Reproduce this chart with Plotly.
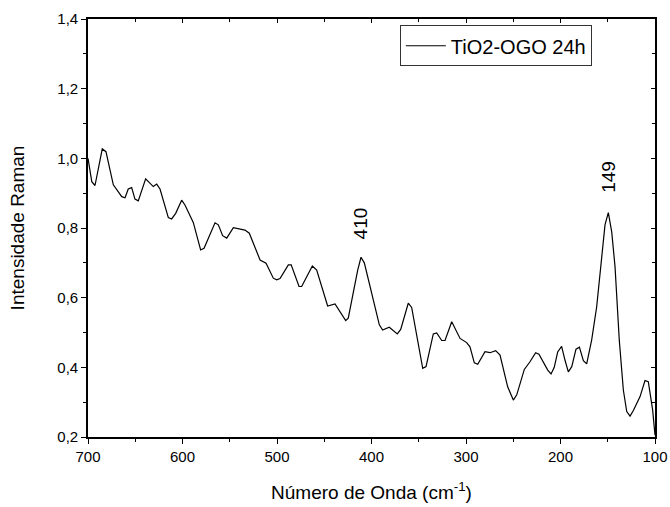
import plotly.graph_objects as go

wavenumber = [700, 696, 692.6, 684.9, 681, 673.2, 664.3, 660.8, 657.4, 653.8, 650.3, 646.8,
              639, 630.9, 627.3, 623.8, 615, 611.5, 607.2, 600.9, 597.4,
              588.6, 580.8, 577.2, 565.6, 562.1, 557.5, 553.2, 546.2, 533.9, 529.3,
              517.9, 511.6, 503.9, 500.3, 496.8, 488, 485, 476.7, 473.9, 462.6, 458,
              446.4, 438.6, 427.3, 424.6, 414.6, 411.1, 407.6, 401.6, 396.3,
              391.7, 388.2, 381.2, 372.7, 369.1, 361.1, 357.5, 345.8, 342.3, 334.6,
              331, 325.7, 322.2, 315.1, 306.3, 299.3, 295.8, 291.2, 287.6, 279.9,
              274.6, 268.6, 264, 255.9, 249.9, 246.3, 238.3, 232.3, 226.3, 222.8,
              213.5, 210, 206.6, 203, 198.8, 195.3, 191.7, 188.1, 183.6, 180,
              175.8, 172.3, 167, 161.7, 157.5, 152.9, 149.4, 145.8, 142.3, 137.8,
              133.5, 129.9, 126.4, 122.9, 115.8, 110.6, 107.1, 102.5, 100]
intensity = [1.0, 0.933, 0.922, 1.027, 1.019, 0.924, 0.890, 0.887, 0.912, 0.916, 0.883, 0.878,
             0.941, 0.919, 0.926, 0.912, 0.830, 0.826, 0.842, 0.880, 0.866,
             0.816, 0.737, 0.742, 0.815, 0.809, 0.778, 0.771, 0.801, 0.794, 0.785,
             0.708, 0.699, 0.656, 0.651, 0.655, 0.694, 0.694, 0.632, 0.632, 0.691, 0.679,
             0.576, 0.582, 0.534, 0.541, 0.679, 0.716, 0.700, 0.636, 0.574,
             0.522, 0.507, 0.515, 0.496, 0.509, 0.584, 0.572, 0.397, 0.402, 0.496,
             0.499, 0.477, 0.477, 0.531, 0.483, 0.471, 0.459, 0.413, 0.409, 0.445,
             0.442, 0.448, 0.435, 0.344, 0.306, 0.321, 0.394, 0.416, 0.442, 0.438,
             0.392, 0.381, 0.400, 0.444, 0.460, 0.421, 0.387, 0.402, 0.452, 0.458,
             0.419, 0.410, 0.479, 0.574, 0.694, 0.809, 0.844, 0.789, 0.689, 0.478,
             0.335, 0.273, 0.260, 0.276, 0.316, 0.362, 0.359, 0.278, 0.205]

series_name = "TiO2-OGO 24h"
peak_labels = ["410", "149"]
peak_x = [412, 149.5]
peak_y = [0.762, 0.896]

x_ticks = [700, 600, 500, 400, 300, 200, 100]
y_ticks = [0.2, 0.4, 0.6, 0.8, 1.0, 1.2, 1.4]

font_family = "Liberation Sans, Arial, sans-serif"

fig = go.Figure()
fig.add_trace(go.Scatter(x=wavenumber, y=intensity, mode="lines",
                         line=dict(color="black", width=1.2),
                         name=series_name, showlegend=True))
# helper trace for mirrored (inside) ticks on top/right
fig.add_trace(go.Scatter(x=wavenumber, y=intensity, mode="lines", xaxis="x2", yaxis="y2",
                         line=dict(color="rgba(0,0,0,0)", width=0), showlegend=False,
                         hoverinfo="skip"))

for lab, px, py in zip(peak_labels, peak_x, peak_y):
    fig.add_annotation(x=px, y=py, text=lab, showarrow=False, textangle=-90,
                       font=dict(size=19, color="black", family=font_family),
                       xanchor="center", yanchor="bottom")

axis_common = dict(showline=True, linecolor="black", linewidth=1.6, showgrid=False,
                   zeroline=False, ticks="outside", tickcolor="black", tickwidth=1.3,
                   ticklen=5, automargin=False,
                   tickfont=dict(size=15, color="black", family=font_family))

fig.update_layout(
    width=670, height=507,
    margin=dict(l=88, r=15, t=19, b=70, autoexpand=False),
    paper_bgcolor="white", plot_bgcolor="white",
    separators=",.",
    font=dict(family=font_family, color="black"),
    xaxis=dict(range=[700, 100], tickvals=x_ticks, tickformat="d",
               minor=dict(ticks="outside", dtick=50, tick0=0, ticklen=3, tickcolor="black", tickwidth=1.3),
               title=dict(text="Número de Onda (cm<sup>-1</sup>)", font=dict(size=19), standoff=22),
               **axis_common),
    yaxis=dict(range=[0.2, 1.4], tickvals=y_ticks, tickformat=".1f",
               minor=dict(ticks="outside", dtick=0.1, tick0=0, ticklen=3, tickcolor="black", tickwidth=1.3),
               title=dict(text="Intensidade Raman", font=dict(size=19), standoff=28),
               **axis_common),
    xaxis2=dict(range=[700, 100], overlaying="x", side="top", anchor="y2", showline=True,
                linecolor="black", linewidth=1.6, showgrid=False, zeroline=False,
                ticks="inside", tickvals=x_ticks, ticklen=4, tickcolor="black", tickwidth=1,
                showticklabels=False, automargin=False,
                minor=dict(ticks="inside", dtick=50, tick0=0, ticklen=3, tickcolor="black")),
    yaxis2=dict(range=[0.2, 1.4], overlaying="y", side="right", anchor="x2", showline=True,
                linecolor="black", linewidth=1.6, showgrid=False, zeroline=False,
                ticks="inside", tickvals=y_ticks, ticklen=4, tickcolor="black", tickwidth=1,
                showticklabels=False, automargin=False,
                minor=dict(ticks="inside", dtick=0.1, tick0=0, ticklen=3, tickcolor="black")),
    legend=dict(x=0.550, y=0.985, xanchor="left", yanchor="top",
                bordercolor="#333", borderwidth=1, bgcolor="white",
                font=dict(size=20, color="black", family=font_family),
                itemwidth=40, tracegroupgap=0),
    showlegend=True,
)

fig.write_html("out.html")
